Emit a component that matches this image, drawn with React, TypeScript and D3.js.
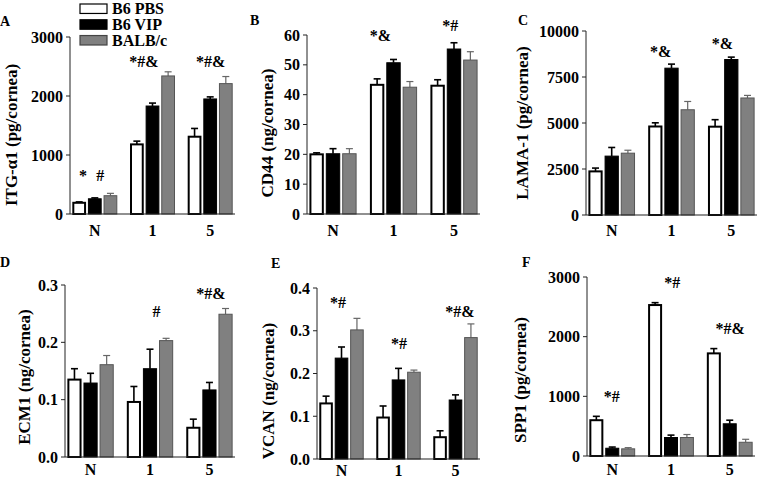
import React from 'react';
import * as d3 from 'd3';

// ---------- data ----------
const categories = ['N', '1', '5'];
const seriesNames = ['B6 PBS', 'B6 VIP', 'BALB/c'];

// values indexed [series][category]
const itgMeans = [[190, 1180, 1310], [258, 1830, 1950], [310, 2340, 2210]];
const itgErrs = [[15, 55, 140], [15, 50, 35], [40, 70, 120]];

const cd44Means = [[20, 43.3, 43], [20.2, 50.7, 55.3], [20.2, 42.5, 51.6]];
const cd44Errs = [[0.5, 2, 2], [1.7, 1.1, 2.1], [1.7, 1.9, 2.8]];

const lamaMeans = [[2370, 4810, 4800], [3200, 7980, 8450], [3360, 5720, 6360]];
const lamaErrs = [[180, 200, 380], [470, 220, 130], [160, 450, 140]];

const ecmMeans = [[0.135, 0.096, 0.051], [0.129, 0.154, 0.117], [0.161, 0.203, 0.249]];
const ecmErrs = [[0.019, 0.027, 0.015], [0.017, 0.034, 0.013], [0.016, 0.004, 0.01]];

const vcanMeans = [[0.13, 0.097, 0.051], [0.236, 0.185, 0.138], [0.302, 0.203, 0.284]];
const vcanErrs = [[0.017, 0.027, 0.015], [0.026, 0.027, 0.012], [0.027, 0.005, 0.032]];

const sppMeans = [[600, 2530, 1720], [130, 310, 540], [120, 310, 230]];
const sppErrs = [[65, 40, 80], [20, 40, 60], [20, 50, 50]];

const itgTicks = [0, 1000, 2000, 3000];
const cd44Ticks = [0, 10, 20, 30, 40, 50, 60];
const lamaTicks = [0, 2500, 5000, 7500, 10000];
const ecmTicks = [0, 0.1, 0.2, 0.3];
const vcanTicks = [0, 0.1, 0.2, 0.3, 0.4];
const sppTicks = [0, 1000, 2000, 3000];

// significance markers: category, position within group (0..1), value height, text
const itgMarks = [
  { cat: 'N', pos: 0.24, value: 650, text: '*' },
  { cat: 'N', pos: 0.62, value: 650, text: '#' },
  { cat: '1', pos: 0.31, value: 2580, text: '*#&' },
  { cat: '5', pos: 0.51, value: 2580, text: '*#&' },
];
const cd44Marks = [
  { cat: '1', pos: 0.22, value: 60, text: '*&' },
  { cat: '5', pos: 0.42, value: 63.3, text: '*#' },
];
const lamaMarks = [
  { cat: '1', pos: 0.27, value: 8900, text: '*&' },
  { cat: '5', pos: 0.31, value: 9340, text: '*&' },
];
const ecmMarks = [
  { cat: '1', pos: 0.64, value: 0.253, text: '#' },
  { cat: '5', pos: 0.53, value: 0.286, text: '*#&' },
];
const vcanMarks = [
  { cat: 'N', pos: 0.42, value: 0.365, text: '*#' },
  { cat: '1', pos: 0.51, value: 0.271, text: '*#' },
  { cat: '5', pos: 0.6, value: 0.346, text: '*#&' },
];
const sppMarks = [
  { cat: 'N', pos: 0.49, value: 990, text: '*#' },
  { cat: '1', pos: 0.53, value: 2900, text: '*#' },
  { cat: '5', pos: 0.51, value: 2145, text: '*#&' },
];

// ---------- layout ----------
const FONT = '"Liberation Serif", "Times New Roman", serif';
const panels = [
  { letter: 'A', lx: 0, ly: 26, x0: 70, x1: 235, yTop: 37, yBot: 214, max: 3000, ticks: itgTicks, fmt: d3.format('d'), means: itgMeans, errs: itgErrs, marks: itgMarks, label: 'ITG-α1 (pg/cornea)', labX: 11, labY: 135, catY: 236 },
  { letter: 'B', lx: 250, ly: 25, x0: 307, x1: 480, yTop: 35, yBot: 214, max: 60, ticks: cd44Ticks, fmt: d3.format('d'), means: cd44Means, errs: cd44Errs, marks: cd44Marks, label: 'CD44 (ng/cornea)', labX: 267, labY: 133, catY: 236 },
  { letter: 'C', lx: 518, ly: 25, x0: 586, x1: 757, yTop: 31, yBot: 215, max: 10000, ticks: lamaTicks, fmt: d3.format('d'), means: lamaMeans, errs: lamaErrs, marks: lamaMarks, label: 'LAMA-1 (pg/cornea)', labX: 522, labY: 123, catY: 236 },
  { letter: 'D', lx: 0, ly: 267, x0: 65, x1: 235, yTop: 285, yBot: 457, max: 0.3, ticks: ecmTicks, fmt: d3.format('.1f'), means: ecmMeans, errs: ecmErrs, marks: ecmMarks, label: 'ECM1 (ng/cornea)', labX: 24, labY: 377, catY: 475 },
  { letter: 'E', lx: 271, ly: 268, x0: 317, x1: 480, yTop: 288, yBot: 459, max: 0.4, ticks: vcanTicks, fmt: d3.format('.1f'), means: vcanMeans, errs: vcanErrs, marks: vcanMarks, label: 'VCAN (ng/cornea)', labX: 268, labY: 391, catY: 476 },
  { letter: 'F', lx: 522, ly: 267, x0: 587, x1: 755, yTop: 277, yBot: 456, max: 3000, ticks: sppTicks, fmt: d3.format('d'), means: sppMeans, errs: sppErrs, marks: sppMarks, label: 'SPP1 (pg/cornea)', labX: 520, labY: 380, catY: 475 },
];

const fills = ['#ffffff', '#000000', '#808080'];
const strokes = ['#000000', '#000000', '#555555'];
const errColors = ['#000000', '#000000', '#666666'];

function Panel({ p }: { p: any }) {
  const y = d3.scaleLinear().domain([0, p.max]).range([p.yBot, p.yTop]);
  const xg = d3.scaleBand().domain(categories).range([p.x0, p.x1]).paddingInner(0.22).paddingOuter(0.04);
  const xs = d3.scaleBand().domain(seriesNames).range([0, xg.bandwidth()]).paddingInner(0.12);
  const bw = xs.bandwidth();
  return (
    <g>
      <text x={p.lx} y={p.ly} fontFamily={FONT} fontWeight="bold" fontSize={14}>{p.letter}</text>
      <text transform={`translate(${p.labX},${p.labY}) rotate(-90)`} textAnchor="middle" dominantBaseline="central" fontFamily={FONT} fontWeight="bold" fontSize={17}>{p.label}</text>
      {/* bars */}
      {seriesNames.map((s, si) =>
        categories.map((c, ci) => {
          const v = p.means[si][ci];
          const e = p.errs[si][ci];
          const bx = (xg(c) as number) + (xs(s) as number);
          const cx = bx + bw / 2;
          const sw = si === 0 ? 2 : 1;
          return (
            <g key={s + c}>
              <line x1={cx} x2={cx} y1={y(v)} y2={y(v + e)} stroke={errColors[si]} strokeWidth={si === 2 ? 1.2 : 1.6} />
              <line x1={cx - 3.5} x2={cx + 3.5} y1={y(v + e)} y2={y(v + e)} stroke={errColors[si]} strokeWidth={si === 2 ? 1.2 : 1.6} />
              <rect x={bx + sw / 2} y={y(v)} width={bw - sw} height={p.yBot - y(v)} fill={fills[si]} stroke={strokes[si]} strokeWidth={sw} />
            </g>
          );
        })
      )}
      {/* axes */}
      <line x1={p.x0} x2={p.x0} y1={p.yBot} y2={y(p.max)} stroke="#222" strokeWidth={1} />
      <line x1={p.x0} x2={p.x1} y1={p.yBot} y2={p.yBot} stroke="#222" strokeWidth={1.2} />
      {p.ticks.map((t: number) => (
        <g key={t}>
          <line x1={p.x0 - 4} x2={p.x0} y1={y(t)} y2={y(t)} stroke="#222" strokeWidth={1} />
          <text x={p.x0 - 7} y={y(t) + 5.5} textAnchor="end" fontFamily={FONT} fontWeight="bold" fontSize={16}>{p.fmt(t)}</text>
        </g>
      ))}
      {categories.map((c) => (
        <text key={c} x={(xg(c) as number) + xg.bandwidth() / 2} y={p.catY} textAnchor="middle" fontFamily={FONT} fontWeight="bold" fontSize={16}>{c}</text>
      ))}
      {p.marks.map((m: any, i: number) => (
        <text key={i} x={(xg(m.cat) as number) + xg.bandwidth() * m.pos} y={y(m.value) + 5.5} textAnchor="middle" fontFamily={FONT} fontWeight="bold" fontSize={16}>{m.text}</text>
      ))}
    </g>
  );
}

function Legend() {
  const ly = d3.scaleBand().domain(seriesNames).range([3.5, 44.5]).paddingInner(0.4);
  return (
    <g>
      {seriesNames.map((s, i) => (
        <g key={s}>
          <rect x={80} y={(ly(s) as number) + 0.5} width={27} height={ly.bandwidth()} fill={fills[i]} stroke={i === 2 ? '#444' : '#000'} strokeWidth={1.2} />
          <text x={112} y={(ly(s) as number) + ly.bandwidth() + 1.5} fontFamily={FONT} fontWeight="bold" fontSize={16}>{s}</text>
        </g>
      ))}
    </g>
  );
}

export default function App() {
  return (
    <svg width={759} height={480} style={{ position: 'absolute', left: 0, top: 0, background: '#fff' }}>
      <rect x={0} y={0} width={759} height={480} fill="#fff" />
      {panels.map((p) => (
        <Panel key={p.letter} p={p} />
      ))}
      <Legend />
    </svg>
  );
}
